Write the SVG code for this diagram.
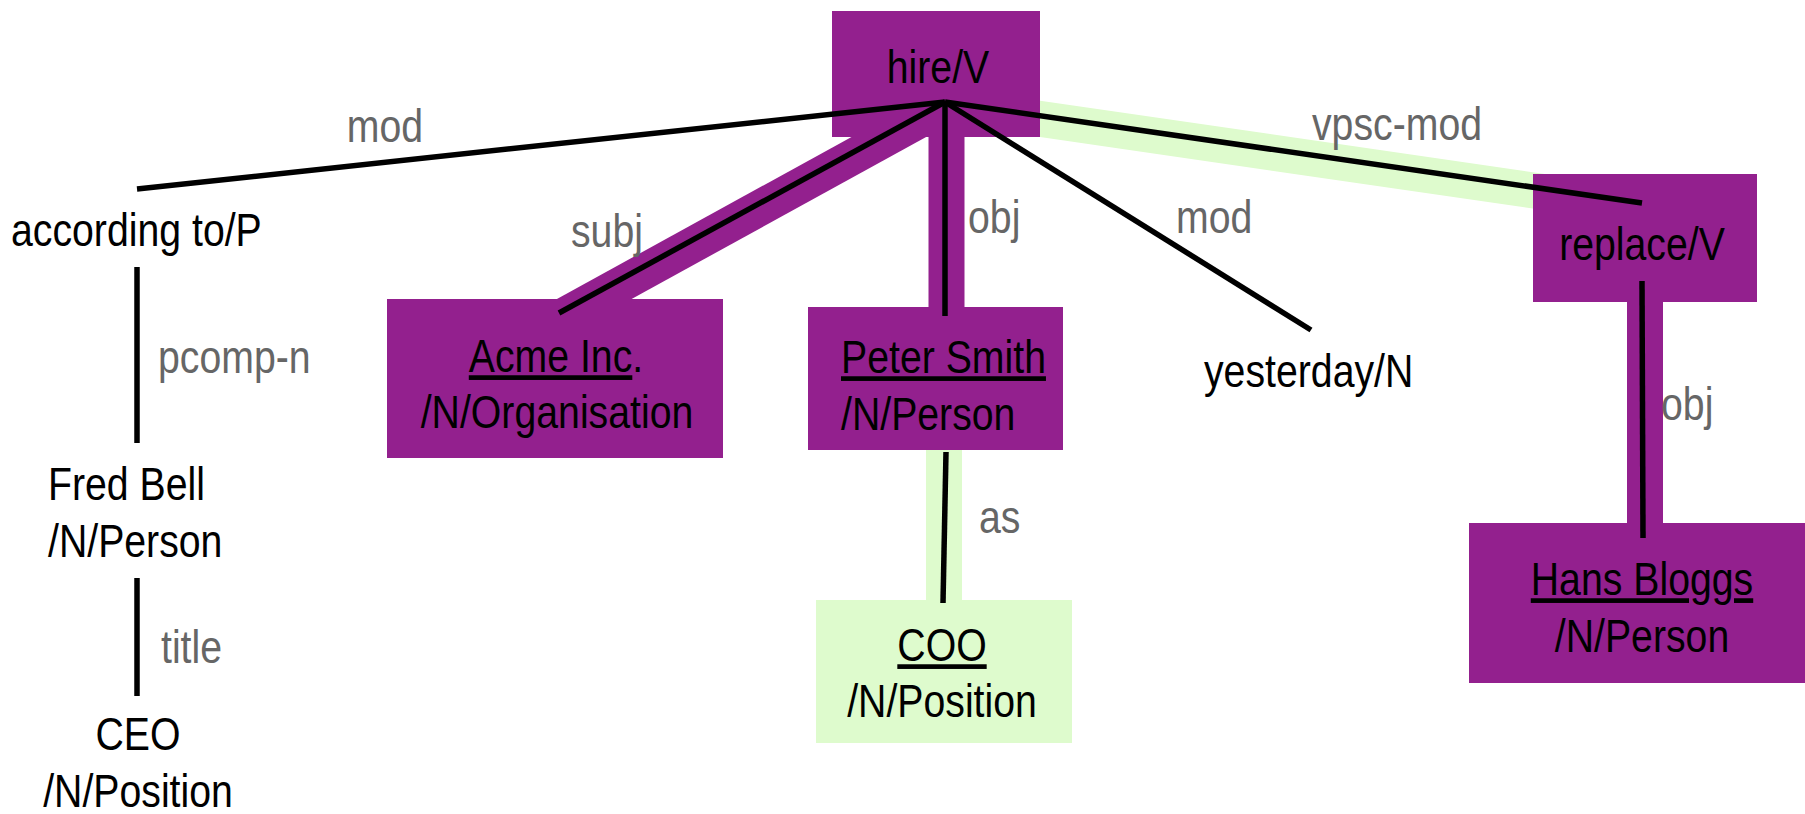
<svg xmlns="http://www.w3.org/2000/svg" width="1805" height="814" viewBox="0 0 1805 814">
  <style>
    text { font-family: "Liberation Sans", Arial, sans-serif; font-size: 47px; fill: #000; }
    .lbl { fill: #666; }
    .mid { text-anchor: middle; }
    .u { text-decoration: underline; }
    .box-p { fill: #93208E; }
    .box-g { fill: #DEFBCD; }
    .band-p { stroke: #93208E; stroke-width: 36; fill: none; }
    .band-g { stroke: #DEFBCD; stroke-width: 36; fill: none; }
    .edge { stroke: #000; stroke-width: 5.5; fill: none; }
  </style>

  <!-- text uses a horizontally condensed sans, placed via matrix(0.835 0 0 1 x y) -->

  <!-- highlighted paths, drawn beneath the boxes -->
  <g id="highlights">
    <line class="band-p" x1="967" y1="94" x2="547" y2="325"/>
    <line class="band-p" x1="946.5" y1="120" x2="946.5" y2="320"/>
    <line class="band-g" x1="1000" y1="113" x2="1620" y2="203"/>
    <line class="band-g" x1="944" y1="440" x2="944" y2="610"/>
    <line class="band-p" x1="1645" y1="290" x2="1645" y2="540"/>
  </g>

  <g id="node-hire">
    <rect class="box-p" x="832" y="11" width="208" height="126"/>
    <text class="mid" transform="matrix(0.835 0 0 1 938 83)">hire/V</text>
  </g>

  <g id="node-according-to">
    <text transform="matrix(0.835 0 0 1 11 246)">according to/P</text>
  </g>

  <g id="node-fred-bell">
    <text transform="matrix(0.835 0 0 1 48 500)">Fred Bell</text>
    <text transform="matrix(0.835 0 0 1 48 557)">/N/Person</text>
  </g>

  <g id="node-ceo">
    <text class="mid" transform="matrix(0.835 0 0 1 138 750)">CEO</text>
    <text class="mid" transform="matrix(0.835 0 0 1 138 807)">/N/Position</text>
  </g>

  <g id="node-acme">
    <rect class="box-p" x="387" y="299" width="336" height="159"/>
    <text class="mid" transform="matrix(0.835 0 0 1 556 372)"><tspan class="u">Acme Inc</tspan>.</text>
    <text class="mid" transform="matrix(0.835 0 0 1 557 428)">/N/Organisation</text>
  </g>

  <g id="node-peter-smith">
    <rect class="box-p" x="808" y="307" width="255" height="143"/>
    <text transform="matrix(0.835 0 0 1 841 373)"><tspan class="u">Peter Smith</tspan></text>
    <text transform="matrix(0.835 0 0 1 841 430)">/N/Person</text>
  </g>

  <g id="node-coo">
    <rect class="box-g" x="816" y="600" width="256" height="143"/>
    <text class="mid" transform="matrix(0.835 0 0 1 942 661)"><tspan class="u">COO</tspan></text>
    <text class="mid" transform="matrix(0.835 0 0 1 942 717)">/N/Position</text>
  </g>

  <g id="node-yesterday">
    <text transform="matrix(0.835 0 0 1 1204 387)">yesterday/N</text>
  </g>

  <g id="node-replace">
    <rect class="box-p" x="1533" y="174" width="224" height="128"/>
    <text class="mid" transform="matrix(0.835 0 0 1 1642 260)">replace/V</text>
  </g>

  <g id="node-hans-bloggs">
    <rect class="box-p" x="1469" y="523" width="336" height="160"/>
    <text class="mid" transform="matrix(0.835 0 0 1 1642 595)"><tspan class="u">Hans Bloggs</tspan></text>
    <text class="mid" transform="matrix(0.835 0 0 1 1642 652)">/N/Person</text>
  </g>

  <!-- dependency edges and their relation labels -->
  <g id="connectors">
    <line class="edge" x1="945" y1="102" x2="137" y2="189"/>
    <line class="edge" x1="945" y1="102" x2="559" y2="313"/>
    <line class="edge" x1="945" y1="102" x2="945" y2="316"/>
    <line class="edge" x1="945" y1="102" x2="1311" y2="330"/>
    <line class="edge" x1="945" y1="102" x2="1642" y2="203"/>
    <line class="edge" x1="137" y1="267" x2="137" y2="443"/>
    <line class="edge" x1="137" y1="578" x2="137" y2="696"/>
    <line class="edge" x1="946" y1="452" x2="943" y2="603"/>
    <line class="edge" x1="1642" y1="281" x2="1643" y2="538"/>

    <text class="lbl mid" transform="matrix(0.835 0 0 1 385 142)">mod</text>
    <text class="lbl" transform="matrix(0.835 0 0 1 158 373)">pcomp-n</text>
    <text class="lbl" transform="matrix(0.835 0 0 1 161 663)">title</text>
    <text class="lbl" transform="matrix(0.835 0 0 1 571 247)">subj</text>
    <text class="lbl" transform="matrix(0.835 0 0 1 968 233)">obj</text>
    <text class="lbl" transform="matrix(0.835 0 0 1 1176 233)">mod</text>
    <text class="lbl" transform="matrix(0.835 0 0 1 1312 140)">vpsc-mod</text>
    <text class="lbl" transform="matrix(0.835 0 0 1 979 533)">as</text>
    <text class="lbl" transform="matrix(0.835 0 0 1 1661 420)">obj</text>
  </g>
</svg>
